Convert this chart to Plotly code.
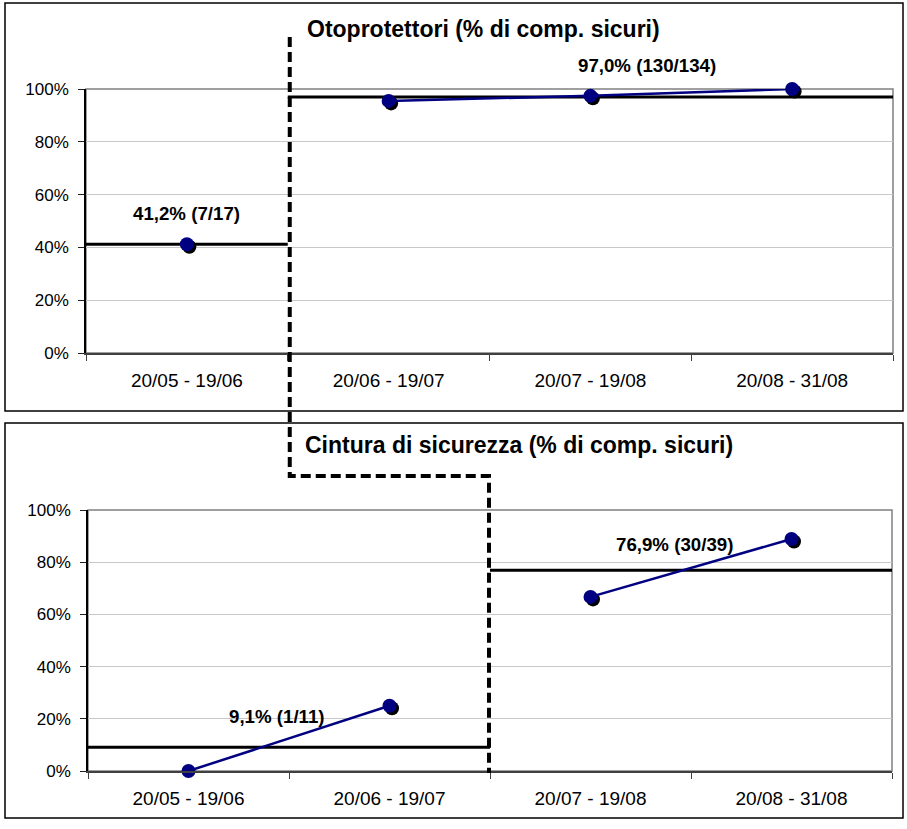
import plotly.graph_objects as go

W, H = 907, 829

periods = ["20/05 - 19/06", "20/06 - 19/07", "20/07 - 19/08", "20/08 - 31/08"]
y_ticks = [0, 20, 40, 60, 80, 100]
y_tick_text = [f"{v}%" for v in y_ticks]

# Otoprotettori: % of safe behaviours per period
ear_pct = [41.2, 95.5, 97.4, 100.0]
# phases (first/last period index) with aggregated result
ear_phase_first = [0, 1]
ear_phase_last = [0, 3]
ear_phase_pct = [41.2, 97.0]
ear_phase_num = [7, 130]
ear_phase_den = [17, 134]
ear_label_x = [0.0, 2.28]

# Cintura di sicurezza
belt_pct = [0.0, 25.0, 66.7, 88.9]
belt_phase_first = [0, 2]
belt_phase_last = [1, 3]
belt_phase_pct = [9.1, 76.9]
belt_phase_num = [1, 30]
belt_phase_den = [11, 39]
belt_label_x = [0.44, 2.42]

FONT = "Liberation Sans, Arial, sans-serif"
NAVY = "#000080"


def px_x(p):
    return p / W


def px_y(p):
    return 1 - p / H


panels = [
    dict(title="Otoprotettori (% di comp. sicuri)", pct=ear_pct,
         first=ear_phase_first, last=ear_phase_last, ppct=ear_phase_pct,
         num=ear_phase_num, den=ear_phase_den, lx=ear_label_x,
         xdom=(86, 893), ydom=(89, 353), box=(5, 3, 903, 411), title_pos=(305, 29),
         yshift=[31, 31]),
    dict(title="Cintura di sicurezza (% di comp. sicuri)", pct=belt_pct,
         first=belt_phase_first, last=belt_phase_last, ppct=belt_phase_pct,
         num=belt_phase_num, den=belt_phase_den, lx=belt_label_x,
         xdom=(88, 892), ydom=(510, 771), box=(5, 423, 903, 818), title_pos=(303, 445),
         yshift=[31, 26]),
]

fig = go.Figure()
layout = dict(
    width=W, height=H, margin=dict(l=0, r=0, t=0, b=0, autoexpand=False),
    paper_bgcolor="white", plot_bgcolor="white", showlegend=False,
    font=dict(family=FONT, color="black"),
)
shapes, annotations = [], []
xs = list(range(len(periods)))

for i, p in enumerate(panels):
    base = i + 1          # visible axes
    shadow = i + 3        # offset axes for marker shadows
    front = i + 5         # series axes
    xd = [px_x(p["xdom"][0]), px_x(p["xdom"][1])]
    yd = [px_y(p["ydom"][1]), px_y(p["ydom"][0])]
    xr = [-0.5, len(periods) - 0.5]
    yr = [0, 100]
    ppu_x = (p["xdom"][1] - p["xdom"][0]) / (xr[1] - xr[0])
    ppu_y = (p["ydom"][1] - p["ydom"][0]) / (yr[1] - yr[0])
    dx, dy = 2.5 / ppu_x, 2.5 / ppu_y

    sfx = "" if base == 1 else str(base)
    layout[f"xaxis{sfx}"] = dict(
        domain=xd, anchor=f"y{sfx}", range=xr, tickmode="array", tickvals=xs,
        ticktext=periods, ticks="", showgrid=False, zeroline=False, automargin=False,
        showline=True, linecolor="#404040", linewidth=1.5,
        tickfont=dict(size=19, family=FONT, color="black"), ticklabelstandoff=9,
        minor=dict(tickmode="array", tickvals=[x - 0.5 for x in xs] + [xr[1]],
                   ticks="outside", ticklen=6, tickcolor="#404040", tickwidth=1.2,
                   showgrid=False),
    )
    layout[f"yaxis{sfx}"] = dict(
        domain=yd, anchor=f"x{sfx}", range=yr, tickmode="array", tickvals=y_ticks,
        ticktext=y_tick_text, ticks="outside", ticklen=6, tickcolor="#202020",
        showline=True, linecolor="black", linewidth=1.5, zeroline=False,
        showgrid=True, gridcolor="#c8c8c8", gridwidth=1, automargin=False,
        tickfont=dict(size=17, family=FONT, color="black"), ticklabelstandoff=6,
    )
    layout[f"xaxis{shadow}"] = dict(overlaying=f"x{sfx}", anchor=f"y{shadow}",
                                   range=[xr[0] - dx, xr[1] - dx], visible=False,
                                   automargin=False)
    layout[f"yaxis{shadow}"] = dict(overlaying=f"y{sfx}", anchor=f"x{shadow}",
                                   range=[yr[0] + dy, yr[1] + dy], visible=False,
                                   automargin=False)
    layout[f"xaxis{front}"] = dict(overlaying=f"x{sfx}", anchor=f"y{front}",
                                  range=xr, visible=False, automargin=False)
    layout[f"yaxis{front}"] = dict(overlaying=f"y{sfx}", anchor=f"x{front}",
                                  range=yr, visible=False, automargin=False)

    # phase reference lines
    for k in range(len(p["ppct"])):
        x0 = p["first"][k] - 0.5
        x1 = p["last"][k] + 0.5
        fig.add_trace(go.Scatter(
            x=[x0, x1], y=[p["ppct"][k]] * 2, mode="lines",
            line=dict(color="black", width=3), xaxis=f"x{sfx}", yaxis=f"y{sfx}",
            hoverinfo="skip", cliponaxis=False))
        txt = f"{p['ppct'][k]:.1f}".replace(".", ",") + f"% ({p['num'][k]}/{p['den'][k]})"
        annotations.append(dict(
            x=p["lx"][k], y=p["ppct"][k], xref=f"x{sfx}", yref=f"y{sfx}",
            text=f"<b>{txt}</b>", showarrow=False, yshift=p["yshift"][k],
            font=dict(size=18.7, family=FONT, color="black")))

    # marker shadows
    for k in range(len(p["ppct"])):
        idx = list(range(p["first"][k], p["last"][k] + 1))
        fig.add_trace(go.Scatter(
            x=idx, y=[p["pct"][j] for j in idx], mode="markers",
            marker=dict(color="black", size=14), xaxis=f"x{shadow}",
            yaxis=f"y{shadow}", hoverinfo="skip", cliponaxis=False))
    # series (line broken between phases)
    for k in range(len(p["ppct"])):
        idx = list(range(p["first"][k], p["last"][k] + 1))
        fig.add_trace(go.Scatter(
            x=idx, y=[p["pct"][j] for j in idx], mode="lines+markers",
            line=dict(color=NAVY, width=2.5), marker=dict(color=NAVY, size=14),
            xaxis=f"x{front}", yaxis=f"y{front}", cliponaxis=False))

    # plot-area frame
    shapes.append(dict(type="rect", xref=f"x{sfx} domain", yref=f"y{sfx} domain",
                       x0=0, x1=1, y0=0, y1=1, line=dict(color="#808080", width=1.5),
                       layer="below"))
    # chart frame
    bx0, by0, bx1, by1 = p["box"]
    shapes.append(dict(type="rect", xref="paper", yref="paper",
                       x0=px_x(bx0), x1=px_x(bx1), y0=px_y(by1), y1=px_y(by0),
                       line=dict(color="black", width=1.5)))
    annotations.append(dict(
        x=px_x(p["title_pos"][0]), y=px_y(p["title_pos"][1]), xref="paper", yref="paper",
        xanchor="left", yanchor="middle", showarrow=False,
        text=f"<b>{p['title']}</b>", font=dict(size=23, family=FONT, color="black")))

# dashed separator between the phases, running across both panels
top, bot = panels
top_b = top["xdom"][0] + (top["xdom"][1] - top["xdom"][0]) * (ear_phase_last[0] + 1) / len(periods)
bot_b = bot["xdom"][0] + (bot["xdom"][1] - bot["xdom"][0]) * (belt_phase_last[0] + 1) / len(periods)
top_b += 2
bot_b -= 1
path = (f"M {px_x(top_b)},{px_y(37)} L {px_x(top_b)},{px_y(476)} "
        f"L {px_x(bot_b)},{px_y(476)} L {px_x(bot_b)},{px_y(773)}")
shapes.append(dict(type="path", xref="paper", yref="paper", path=path,
                   line=dict(color="black", width=4, dash="10px,5px")))

layout["shapes"] = shapes
layout["annotations"] = annotations
fig.update_layout(**layout)
fig.write_html("out.html")
